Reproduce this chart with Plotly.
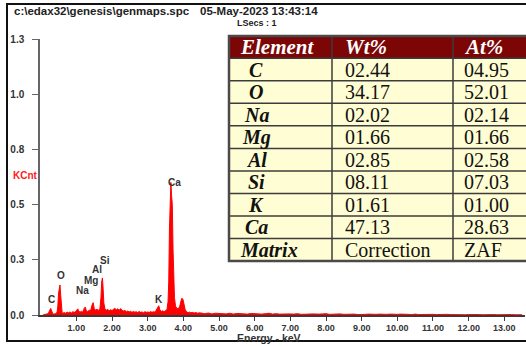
import plotly.graph_objects as go

# ---------------- EDS spectrum (energy in keV, counts in KCnt) ----------------
energy_kev = [
    0.06, 0.10, 0.14, 0.18, 0.20, 0.22, 0.24, 0.26, 0.28, 0.30, 0.32, 0.34, 0.38, 0.42,
    0.44, 0.46, 0.48, 0.50, 0.52, 0.54, 0.56, 0.58, 0.60, 0.62,
    0.66, 0.70, 0.74, 0.78, 0.82, 0.86, 0.90, 0.94, 0.98, 1.02, 1.04, 1.06, 1.10, 1.14,
    1.18, 1.22, 1.25, 1.28, 1.32, 1.36, 1.40, 1.44, 1.47, 1.50, 1.54, 1.58, 1.62, 1.66,
    1.69, 1.71, 1.73, 1.75, 1.77, 1.80, 1.84, 1.88, 1.92, 1.96, 2.00, 2.04, 2.08, 2.12,
    2.16, 2.20, 2.24, 2.28, 2.32, 2.36, 2.40, 2.44, 2.48, 2.52, 2.56, 2.60, 2.64, 2.68,
    2.72, 2.76, 2.80, 2.84, 2.88, 2.92, 2.96, 3.00, 3.04, 3.08, 3.12, 3.16, 3.20, 3.24,
    3.28, 3.31, 3.34, 3.38, 3.42, 3.46, 3.50, 3.54, 3.57, 3.59, 3.61, 3.63, 3.65, 3.67,
    3.69, 3.71, 3.73, 3.75, 3.78, 3.82, 3.86, 3.90, 3.93, 3.96, 3.99, 4.02, 4.05, 4.09,
    4.13, 4.17, 4.21, 4.25, 4.30, 4.35, 4.40, 4.45, 4.50,
    4.6, 4.7, 4.8, 4.9, 5.0, 5.1, 5.2, 5.3, 5.4, 5.5, 5.6, 5.7, 5.8, 5.9, 6.0, 6.1, 6.2,
    6.3, 6.4, 6.5, 6.6, 6.7, 6.8, 6.9, 7.0, 7.1, 7.2, 7.3, 7.4, 7.5, 7.6, 7.7, 7.8, 7.9,
    8.0, 8.1, 8.2, 8.3, 8.4, 8.5, 8.6, 8.7, 8.8, 8.9, 9.0, 9.1, 9.2, 9.3, 9.4, 9.5, 9.6,
    9.7, 9.8, 9.9, 10.0, 10.1, 10.2, 10.3, 10.4, 10.5, 10.6, 10.7, 10.8, 10.9, 11.0, 11.1,
    11.2, 11.3, 11.4, 11.5, 11.6, 11.7, 11.8, 11.9, 12.0, 12.1, 12.2, 12.3, 12.4, 12.5,
    12.6, 12.7, 12.8, 12.9, 13.0, 13.1, 13.2, 13.3, 13.4, 13.5,
]
kcnt = [
    0.000, 0.001, 0.002, 0.004, 0.006, 0.010, 0.018, 0.026, 0.030, 0.022, 0.010, 0.005, 0.004, 0.005,
    0.008, 0.014, 0.040, 0.098, 0.132, 0.136, 0.090, 0.035, 0.012, 0.008,
    0.011, 0.008, 0.013, 0.010, 0.014, 0.009, 0.015, 0.012, 0.016, 0.024, 0.028, 0.020, 0.012, 0.017,
    0.013, 0.030, 0.036, 0.018, 0.016, 0.022, 0.020, 0.045, 0.056, 0.030, 0.022, 0.026, 0.020, 0.030,
    0.080, 0.150, 0.168, 0.120, 0.055, 0.028, 0.022, 0.026, 0.019, 0.024, 0.020, 0.026, 0.030, 0.024,
    0.028, 0.021, 0.029, 0.022, 0.018, 0.021, 0.015, 0.018, 0.014, 0.017, 0.012, 0.016, 0.013, 0.015,
    0.011, 0.016, 0.012, 0.014, 0.010, 0.015, 0.012, 0.014, 0.011, 0.016, 0.012, 0.015, 0.013, 0.022,
    0.038, 0.042, 0.024, 0.016, 0.019, 0.015, 0.020, 0.024, 0.060, 0.150, 0.390, 0.560, 0.600, 0.540,
    0.500, 0.300, 0.160, 0.080, 0.040, 0.030, 0.028, 0.040, 0.062, 0.076, 0.070, 0.050, 0.025, 0.014,
    0.011, 0.013, 0.010, 0.012, 0.009, 0.011, 0.008, 0.010, 0.008,
    0.006, 0.009, 0.005, 0.008, 0.006, 0.007, 0.005, 0.008, 0.004, 0.007, 0.005, 0.006, 0.004, 0.007, 0.005, 0.006, 0.004,
    0.006, 0.008, 0.004, 0.006, 0.004, 0.005, 0.003, 0.005, 0.004, 0.006, 0.003, 0.005, 0.004, 0.005, 0.003, 0.004, 0.005,
    0.006, 0.003, 0.004, 0.003, 0.005, 0.003, 0.004, 0.003, 0.004, 0.002, 0.004, 0.003, 0.004, 0.002, 0.003, 0.004, 0.002,
    0.003, 0.004, 0.002, 0.003, 0.004, 0.002, 0.003, 0.002, 0.004, 0.002, 0.003, 0.004, 0.002, 0.003, 0.002,
    0.003, 0.002, 0.003, 0.002, 0.001, 0.003, 0.002, 0.001, 0.002, 0.003, 0.001, 0.002, 0.001, 0.002,
    0.001, 0.002, 0.001, 0.002, 0.001, 0.001, 0.002, 0.001, 0.002, 0.001,
]

# Peak identification labels (element, energy keV, label height KCnt)
peak_names = ["C", "O", "Na", "Mg", "Al", "Si", "K", "Ca"]
peak_label_kev = [0.31, 0.57, 1.16, 1.41, 1.58, 1.80, 3.32, 3.76]
peak_label_kcnt = [0.068, 0.177, 0.113, 0.158, 0.208, 0.249, 0.068, 0.602]

# Axis ticks
x_tick_vals = list(range(1, 14))
x_tick_text = ["1.00", "2.00", "3.00", "4.00", "5.00", "6.00", "7.00",
               "8.00", "9.00", "10.00", "11.00", "12.00", "13.00"]
y_tick_vals = [0.0, 0.25, 0.5, 0.75, 1.0, 1.25]
y_tick_text = ["0.0", "0.3", "0.5", "0.8", "1.0", "1.3"]

# Quantification table
table_header = ["Element", "Wt%", "At%"]
elements = ["C", "O", "Na", "Mg", "Al", "Si", "K", "Ca"]
wt_pct = ["02.44", "34.17", "02.02", "01.66", "02.85", "08.11", "01.61", "47.13"]
at_pct = ["04.95", "52.01", "02.14", "01.66", "02.58", "07.03", "01.00", "28.63"]
footer_row = ["Matrix", "Correction", "ZAF"]

title_path = "c:\\edax32\\genesis\\genmaps.spc"
title_date = "05-May-2023 13:43:14"
live_secs = "LSecs : 1"

# ---------------- layout helpers (pixel -> paper) ----------------
W, H = 526, 346


def px(x):
    return x / W


def py(y):
    return 1 - y / H


SANS = "Arial, Liberation Sans, sans-serif"
SERIF = "Times New Roman, Liberation Serif, serif"
AXIS_GREY = "#3a3a3a"

fig = go.Figure()
fig.add_trace(go.Scatter(
    x=energy_kev, y=kcnt, mode="lines",
    line=dict(color="#ff0000", width=1),
    fill="tozeroy", fillcolor="#ff0000",
    hoverinfo="skip", showlegend=False,
))

annotations = []
for name, ex, ey in zip(peak_names, peak_label_kev, peak_label_kcnt):
    annotations.append(dict(
        x=ex, y=ey, xref="x", yref="y", text=name, showarrow=False,
        xanchor="center", yanchor="middle",
        font=dict(family=SANS, size=10, color="#333333", weight="bold"),
    ))

# header texts
annotations += [
    dict(x=px(13), y=py(11), xref="paper", yref="paper", text=title_path,
         showarrow=False, xanchor="left", yanchor="middle", borderpad=0,
         font=dict(family=SANS, size=11.5, color="#222222", weight="bold")),
    dict(x=px(199), y=py(11), xref="paper", yref="paper", text=title_date,
         showarrow=False, xanchor="left", yanchor="middle", borderpad=0,
         font=dict(family=SANS, size=11.5, color="#222222", weight="bold")),
    dict(x=px(236), y=py(23), xref="paper", yref="paper", text=live_secs,
         showarrow=False, xanchor="left", yanchor="middle", borderpad=0,
         font=dict(family=SANS, size=9, color="#222222", weight="bold")),
    dict(x=px(11), y=py(175), xref="paper", yref="paper", text="KCnt",
         showarrow=False, xanchor="left", yanchor="middle",
         font=dict(family=SANS, size=10, color="#ff1a1a", weight="bold")),
    dict(x=px(269), y=py(338), xref="paper", yref="paper", text="Energy - keV",
         showarrow=False, xanchor="center", yanchor="middle", borderpad=0,
         font=dict(family=SANS, size=10.5, color="#333333", weight="bold")),
]

shapes = [
    # outer frame
    dict(type="rect", xref="paper", yref="paper",
         x0=px(7), x1=px(534), y0=py(341), y1=py(4),
         line=dict(color="#111111", width=2), fillcolor="rgba(0,0,0,0)"),
]

# ---------------- quantification table ----------------
t_left, t_right = 229, 528
col_edges = [t_left, 332, 453, t_right]
t_top, head_bot = 36, 58.3
n_rows = len(elements) + 1
row_h = (261 - head_bot) / n_rows
t_bot = head_bot + n_rows * row_h

shapes.append(dict(type="rect", xref="paper", yref="paper",
                   x0=px(t_left), x1=px(t_right), y0=py(head_bot), y1=py(t_top),
                   fillcolor="#7c0606", line=dict(width=0), layer="above"))
shapes.append(dict(type="rect", xref="paper", yref="paper",
                   x0=px(t_left), x1=px(t_right), y0=py(t_bot), y1=py(head_bot),
                   fillcolor="#fffdd3", line=dict(width=0), layer="above"))
for i in range(n_rows):
    yl = head_bot + i * row_h
    shapes.append(dict(type="line", xref="paper", yref="paper",
                       x0=px(t_left), x1=px(t_right), y0=py(yl), y1=py(yl),
                       line=dict(color="#3c3c3c", width=1.5), layer="above"))
for xc in col_edges[1:3]:
    shapes.append(dict(type="line", xref="paper", yref="paper",
                       x0=px(xc), x1=px(xc), y0=py(t_top), y1=py(t_bot),
                       line=dict(color="#3c3c3c", width=1.5), layer="above"))
shapes.append(dict(type="rect", xref="paper", yref="paper",
                   x0=px(t_left), x1=px(t_right), y0=py(t_bot), y1=py(t_top),
                   fillcolor="rgba(0,0,0,0)", line=dict(color="#4a4a4a", width=2.5),
                   layer="above"))

head_font = dict(family=SERIF, size=21, color="#ffffff", weight="bold", style="italic")
name_font = dict(family=SERIF, size=20, color="#111111", weight="bold", style="italic")
num_font = dict(family=SERIF, size=20, color="#111111")

yc = (t_top + head_bot) / 2
annotations.append(dict(x=px(238), y=py(yc), xref="paper", yref="paper",
                        text=table_header[0], showarrow=False, xanchor="left",
                        yanchor="middle", font=head_font))
annotations.append(dict(x=px(343), y=py(yc), xref="paper", yref="paper",
                        text=table_header[1], showarrow=False, xanchor="left",
                        yanchor="middle", font=head_font))
annotations.append(dict(x=px(462), y=py(yc), xref="paper", yref="paper",
                        text=table_header[2], showarrow=False, xanchor="left",
                        yanchor="middle", font=head_font))

for i, (el, w, a) in enumerate(zip(elements, wt_pct, at_pct)):
    yc = head_bot + (i + 0.5) * row_h
    annotations.append(dict(x=px(256), y=py(yc), xref="paper", yref="paper",
                            text=el, showarrow=False, xanchor="center",
                            yanchor="middle", font=name_font))
    annotations.append(dict(x=px(343), y=py(yc), xref="paper", yref="paper",
                            text=w, showarrow=False, xanchor="left",
                            yanchor="middle", font=num_font))
    annotations.append(dict(x=px(462), y=py(yc), xref="paper", yref="paper",
                            text=a, showarrow=False, xanchor="left",
                            yanchor="middle", font=num_font))

yc = head_bot + (n_rows - 0.5) * row_h
annotations.append(dict(x=px(238), y=py(yc), xref="paper", yref="paper",
                        text=footer_row[0], showarrow=False, xanchor="left",
                        yanchor="middle", font=name_font))
annotations.append(dict(x=px(343), y=py(yc), xref="paper", yref="paper",
                        text=footer_row[1], showarrow=False, xanchor="left",
                        yanchor="middle", font=num_font))
annotations.append(dict(x=px(462), y=py(yc), xref="paper", yref="paper",
                        text=footer_row[2], showarrow=False, xanchor="left",
                        yanchor="middle", font=num_font))

fig.update_layout(
    width=W, height=H,
    margin=dict(l=0, r=0, t=0, b=0, pad=0, autoexpand=False),
    paper_bgcolor="white", plot_bgcolor="white",
    showlegend=False,
    annotations=annotations,
    shapes=shapes,
    xaxis=dict(
        domain=[px(40), px(525)], range=[-0.02, 13.58],
        tickmode="array", tickvals=x_tick_vals, ticktext=x_tick_text,
        ticks="outside", ticklen=4, tickwidth=1, tickcolor=AXIS_GREY,
        showline=True, linecolor=AXIS_GREY, linewidth=1.5,
        showgrid=False, zeroline=False, fixedrange=True, automargin=False,
        ticklabelstandoff=-1,
        tickfont=dict(family=SANS, size=9, color="#333333", weight="bold"),
    ),
    yaxis=dict(
        domain=[py(315), py(39)], range=[0, 1.25],
        tickmode="array", tickvals=y_tick_vals, ticktext=y_tick_text,
        ticks="outside", ticklen=6, tickwidth=1, tickcolor="#666666",
        showline=True, linecolor="#666666", linewidth=1.5,
        showgrid=False, zeroline=False, fixedrange=True, automargin=False,
        ticklabelstandoff=6,
        tickfont=dict(family=SANS, size=10, color="#333333", weight="bold"),
    ),
)

fig.write_html("out.html")
